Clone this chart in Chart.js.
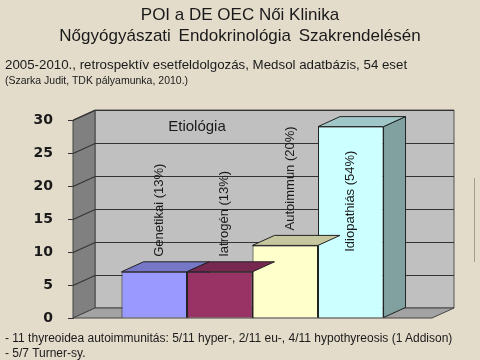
<!DOCTYPE html>
<html>
<head>
<meta charset="utf-8">
<script src="https://cdn.jsdelivr.net/npm/chart.js@4.4.1/dist/chart.umd.min.js"></script>
<style>
  body { margin: 0; background: #e4dccb; font-family: "Liberation Sans", Arial, sans-serif; color: #1a1a1a; }
  #page { position: relative; width: 480px; height: 360px; overflow: hidden; }
  #chart-box { position: absolute; left: 0; top: 0; width: 480px; height: 360px; }
  .txt { position: absolute; white-space: nowrap; }
  #title1 { top: 5px; width: 480px; text-align: center; font-size: 17px; }
  #title2 { top: 26px; width: 480px; text-align: center; font-size: 17px; word-spacing: 3px; }
  #sub1 { left: 5px; top: 57px; font-size: 13.3px; }
  #sub2 { left: 5px; top: 74px; font-size: 10.5px; }
  #note1 { left: 5px; top: 331px; font-size: 12px; }
  #note2 { left: 5px; top: 346px; font-size: 12px; }
  #edge { position: absolute; left: 474px; top: 178px; width: 1px; height: 84px; background: #a39d8c; }
</style>
</head>
<body>
<div id="page">
  <div id="chart-box"><canvas id="chart" width="480" height="360"></canvas></div>
  <div class="txt" id="title1">POI a DE OEC Női Klinika</div>
  <div class="txt" id="title2">Nőgyógyászati Endokrinológia Szakrendelésén</div>
  <div class="txt" id="sub1">2005-2010., retrospektív esetfeldolgozás, Medsol adatbázis, 54 eset</div>
  <div class="txt" id="sub2">(Szarka Judit, TDK pályamunka, 2010.)</div>
  <div class="txt" id="note1">- 11 thyreoidea autoimmunitás: 5/11 hyper-, 2/11 eu-, 4/11 hypothyreosis (1 Addison)</div>
  <div class="txt" id="note2">- 5/7 Turner-sy.</div>
  <div id="edge"></div>
</div>
<script>
const categories = ["Etiológia"];
const seriesNames = ["Genetikai (13%)", "Iatrogén (13%)", "Autoimmun (20%)", "Idiopathiás (54%)"];
const seriesValues = [7, 7, 11, 29];
const yTicks = [0, 5, 10, 15, 20, 25, 30];

const seriesColors = ["#9999ff", "#993366", "#ffffcc", "#ccffff"];

// depth of the fake 3d box
const DX = 22;
const DY = 10;

function shade(hex, f) {
  let n = parseInt(hex.slice(1), 16);
  let r = Math.round(((n >> 16) & 255) * f);
  let g = Math.round(((n >> 8) & 255) * f);
  let b = Math.round((n & 255) * f);
  return `rgb(${r},${g},${b})`;
}

function poly(ctx, pts, fill, stroke) {
  ctx.beginPath();
  ctx.moveTo(pts[0][0], pts[0][1]);
  for (let i = 1; i < pts.length; i++) ctx.lineTo(pts[i][0], pts[i][1]);
  ctx.closePath();
  if (fill) {
    ctx.fillStyle = fill;
    ctx.fill();
  }
  if (stroke) {
    ctx.strokeStyle = stroke;
    ctx.lineWidth = 1;
    ctx.stroke();
  }
}

const box3d = {
  id: "box3d",
  beforeDatasetsDraw(chart) {
    const ctx = chart.ctx;
    const { left, right, top, bottom } = chart.chartArea;
    const y = chart.scales.y;
    ctx.save();
    // walls and floor
    poly(ctx, [[left + DX, top - DY], [right + DX, top - DY], [right + DX, bottom - DY], [left + DX, bottom - DY]], "#c0c0c0", "#555");
    poly(ctx, [[left, top], [left + DX, top - DY], [left + DX, bottom - DY], [left, bottom]], "#808080", "#444");
    poly(ctx, [[left, bottom], [left + DX, bottom - DY], [right + DX, bottom - DY], [right, bottom]], "#a3a3a3", "#444");
    // gridlines on back and left wall
    ctx.strokeStyle = "#333";
    ctx.lineWidth = 1.2;
    y.ticks.forEach((t) => {
      if (t.value === y.min) return;
      let py = Math.round(y.getPixelForValue(t.value)) + 0.5;
      ctx.beginPath();
      ctx.moveTo(left, py);
      ctx.lineTo(left + DX, py - DY);
      ctx.lineTo(right + DX, py - DY);
      ctx.stroke();
    });
    // side faces go first, the next bar's front covers them
    chart.data.datasets.forEach((ds, i) => {
      let bar = chart.getDatasetMeta(i).data[0];
      let xr = bar.x + bar.width / 2;
      poly(ctx, [[xr, bar.y], [xr + DX, bar.y - DY], [xr + DX, bar.base - DY], [xr, bar.base]], shade(seriesColors[i], 0.63), "#222");
    });
    ctx.restore();
  },
  afterDatasetsDraw(chart) {
    const ctx = chart.ctx;
    const { left, top } = chart.chartArea;
    ctx.save();
    chart.data.datasets.forEach((ds, i) => {
      let bar = chart.getDatasetMeta(i).data[0];
      let xl = bar.x - bar.width / 2;
      let xr = bar.x + bar.width / 2;
      poly(ctx, [[xl, bar.y], [xr, bar.y], [xr + DX, bar.y - DY], [xl + DX, bar.y - DY]], shade(seriesColors[i], 0.78), "#222");
    });

    // vertical series labels
    ctx.font = "13px 'Liberation Sans', Arial, sans-serif";
    ctx.fillStyle = "#1a1a1a";
    ctx.textBaseline = "middle";
    chart.data.datasets.forEach((ds, i) => {
      let bar = chart.getDatasetMeta(i).data[0];
      let w = ctx.measureText(ds.label).width;
      ctx.save();
      if (bar.y - 15 - w > top - DY) {
        ctx.translate(bar.x + 5, bar.y - 15);
      } else {
        // no room above, put it inside the bar
        ctx.translate(bar.x, bar.y + 24 + w);
      }
      ctx.rotate(-Math.PI / 2);
      ctx.textAlign = "left";
      ctx.fillText(ds.label, 0, 0);
      ctx.restore();
    });

    // chart title sits inside the box
    ctx.font = "15px 'Liberation Sans', Arial, sans-serif";
    ctx.textAlign = "center";
    ctx.fillText(chart.data.labels[0], left + 124, top + 7);
    ctx.restore();
  },
};

let datasets = seriesNames.map((name, i) => ({
  label: name,
  data: [seriesValues[i]],
  backgroundColor: seriesColors[i],
  borderColor: "#222",
  borderWidth: 1,
  barPercentage: 1,
  categoryPercentage: 0.73,
}));

new Chart(document.getElementById("chart"), {
  type: "bar",
  data: { labels: categories, datasets: datasets },
  plugins: [box3d],
  options: {
    responsive: false,
    animation: false,
    layout: { padding: { top: 120, bottom: 42, left: 0, right: 48 } },
    plugins: { legend: { display: false }, tooltip: { enabled: false } },
    scales: {
      x: { display: false },
      y: {
        min: yTicks[0],
        max: yTicks[yTicks.length - 1],
        afterFit(scale) {
          scale.width = 73;
        },
        afterBuildTicks(scale) {
          scale.ticks = yTicks.map((v) => ({ value: v }));
        },
        ticks: {
          padding: 15,
          color: "#1a1a1a",
          font: { family: "'DejaVu Sans'", size: 14, weight: "bold" },
        },
        grid: { drawOnChartArea: false, tickLength: 5, color: "#333" },
        border: { display: true, color: "#333" },
      },
    },
  },
});
</script>
</body>
</html>
